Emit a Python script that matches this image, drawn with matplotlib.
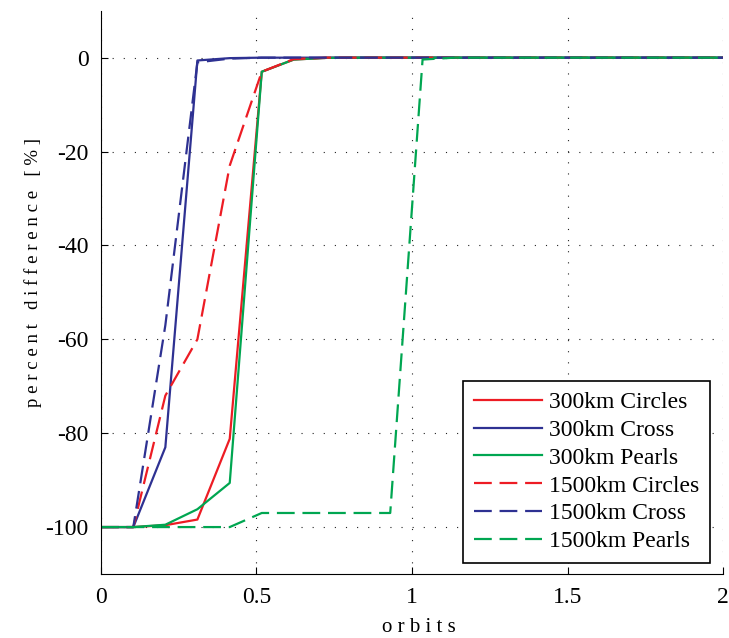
import matplotlib.pyplot as plt

plt.rcParams['font.family'] = ['Liberation Serif', 'DejaVu Serif']
plt.rcParams['axes.unicode_minus'] = False

# sample times in orbits (the curves are flat at 0 after ~1.1 orbits)
orbits = [0, 0.104, 0.207, 0.31, 0.414, 0.517, 0.62, 0.724, 0.827, 0.93, 1.034, 1.137, 2.0]

circles_300 = [-100, -100, -99.6, -98.4, -81.2, -3.0, -0.4, -0.05, 0, 0, 0, 0, 0]
cross_300 = [-100, -100, -83.0, -0.6, -0.1, 0, 0, 0, 0, 0, 0, 0, 0]
pearls_300 = [-100, -100, -99.5, -96.2, -90.6, -3.0, -0.4, -0.05, 0, 0, 0, 0, 0]
circles_1500 = [-100, -100, -72.0, -60.0, -23.0, -3.0, -0.3, 0, 0, 0, 0, 0, 0]
cross_1500 = [-100, -100, -57.0, -1.0, -0.2, 0, 0, 0, 0, 0, 0, 0, 0]
pearls_1500 = [-100, -100, -100, -100, -100, -97.0, -97.0, -97.0, -97.0, -97.0, -0.4, 0, 0]

red = '#ed1c24'
blue = '#2e3192'
green = '#00a651'

fig = plt.figure(figsize=(7.29, 6.38), dpi=100)
ax = fig.add_axes([0.1385, 0.1003, 0.8533, 0.8829])

lw = 1.6
dash = (8, 3.5)
ax.plot(orbits, circles_300, color=red, lw=lw, label='300km Circles')
ax.plot(orbits, cross_300, color=blue, lw=lw, label='300km Cross')
ax.plot(orbits, pearls_300, color=green, lw=lw, label='300km Pearls')
ax.plot(orbits, circles_1500, color=red, lw=lw, ls='--', dashes=dash, label='1500km Circles')
ax.plot(orbits, cross_1500, color=blue, lw=lw, ls='--', dashes=dash, label='1500km Cross')
ax.plot(orbits, pearls_1500, color=green, lw=lw, ls='--', dashes=dash, label='1500km Pearls')

ax.set_xlim(0, 2)
ax.set_ylim(-110, 10)
ax.set_xticks([0, 0.5, 1, 1.5, 2])
ax.set_xticklabels(['0', '0.5', '1', '1.5', '2'])
ax.set_yticks([0, -20, -40, -60, -80, -100])
ax.grid(True, ls=(0, (1, 9)), color='#222222', lw=0.8)

ax.spines['top'].set_visible(False)
ax.spines['right'].set_visible(False)
ax.tick_params(direction='in', length=5, labelsize=17, pad=9)

ax.set_xlabel('o r b i t s', fontsize=15)
ax.set_ylabel('p e r c e n t   d i f f e r e n c e   [ % ]', fontsize=13.5)
ax.xaxis.set_label_coords(0.511, -0.078)
ax.yaxis.set_label_coords(-0.095, 0.535)

leg = ax.legend(loc='lower right', bbox_to_anchor=(0.979, 0.0195), borderaxespad=0,
                fontsize=17, handlelength=2.9, handletextpad=0.3, labelspacing=0.27,
                borderpad=0.45, fancybox=False, framealpha=1, edgecolor='black')
leg.get_frame().set_linewidth(1.2)

fig.savefig('out.png', dpi=100)
